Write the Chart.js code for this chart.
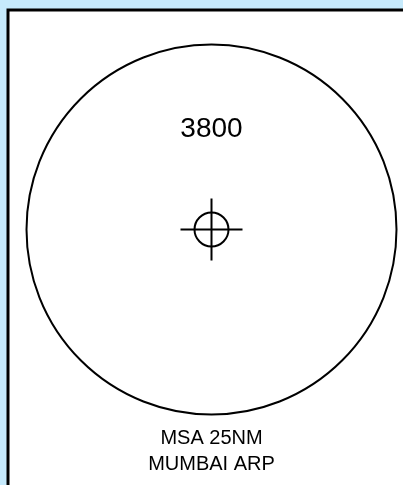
<!DOCTYPE html>
<html>
<head>
<meta charset="utf-8">
<script src="https://cdn.jsdelivr.net/npm/chart.js@4/dist/chart.umd.min.js"></script>
<style>
  html, body { margin: 0; padding: 0; background: #c6eafc; }
  #wrap { width: 403px; height: 485px; position: relative; }
</style>
</head>
<body>
<div id="wrap"><canvas id="msaChart" width="403" height="485"></canvas></div>
<script>
// MSA の中心（ARP）と半径（NM）
const arpPoint = [{x: 0, y: 0}];
const msaRadiusNm = 25;
// セクター高度とその表示位置（NM）
const sectorAltitudes = ['3800'];
const sectorLabelPoints = [{x: 0, y: 13.5}];
// 下部の注記
const captionLines = ['MSA 25NM', 'MUMBAI ARP'];
const captionPoints = [{x: 0, y: -28.3}, {x: 0, y: -31.8}];

// NM を画素に変換した半径
function radiusPx(chart, nm) {
    const s = chart.scales.x;
    return Math.abs(s.getPixelForValue(nm) - s.getPixelForValue(0));
}

// 背景と枠線
const framePlugin = {
    id: 'frame',
    beforeDraw(chart) {
        const c = chart.ctx;
        c.save();
        c.fillStyle = '#c6eafc';
        c.fillRect(0, 0, chart.width, chart.height);
        c.fillStyle = '#ffffff';
        c.fillRect(9, 11, chart.width, chart.height);
        c.strokeStyle = '#000000';
        c.lineWidth = 3;
        c.beginPath();
        c.moveTo(8, chart.height + 5);
        c.lineTo(8, 10);
        c.lineTo(chart.width + 5, 10);
        c.stroke();
        c.restore();
    }
};

// 高度・注記のテキスト
const textPlugin = {
    id: 'msaText',
    afterDatasetsDraw(chart) {
        const c = chart.ctx;
        const sx = chart.scales.x, sy = chart.scales.y;
        c.save();
        c.fillStyle = '#000000';
        c.textAlign = 'center';
        c.textBaseline = 'middle';
        c.font = '28px "Liberation Sans", Arial, sans-serif';
        sectorAltitudes.forEach((t, i) => {
            c.fillText(t, sx.getPixelForValue(sectorLabelPoints[i].x), sy.getPixelForValue(sectorLabelPoints[i].y));
        });
        c.font = '20px "Liberation Sans", Arial, sans-serif';
        captionLines.forEach((t, i) => {
            c.fillText(t, sx.getPixelForValue(captionPoints[i].x), sy.getPixelForValue(captionPoints[i].y));
        });
        c.restore();
    }
};

new Chart(document.getElementById('msaChart'), {
    type: 'scatter',
    data: {
        datasets: [
            {
                // MSA 円
                data: arpPoint,
                clip: false,
                pointStyle: 'circle',
                pointRadius: (ctx) => radiusPx(ctx.chart, msaRadiusNm),
                pointBorderWidth: 2,
                pointBorderColor: '#000000',
                pointBackgroundColor: 'rgba(0,0,0,0)'
            },
            {
                // ARP 記号（円）
                data: arpPoint,
                clip: false,
                pointStyle: 'circle',
                pointRadius: 17,
                pointBorderWidth: 2,
                pointBorderColor: '#000000',
                pointBackgroundColor: 'rgba(0,0,0,0)'
            },
            {
                // ARP 記号（十字）
                data: arpPoint,
                clip: false,
                pointStyle: 'cross',
                pointRadius: 31,
                pointBorderWidth: 2,
                pointBorderColor: '#000000'
            }
        ]
    },
    options: {
        responsive: false,
        animation: false,
        events: [],
        layout: {autoPadding: false, padding: {left: 26.5, right: 6.5, top: 44.5, bottom: 70.5}},
        plugins: {legend: {display: false}, tooltip: {enabled: false}},
        scales: {
            x: {display: false, min: -25, max: 25},
            y: {display: false, min: -25, max: 25}
        }
    },
    plugins: [framePlugin, textPlugin]
});
</script>
</body>
</html>
